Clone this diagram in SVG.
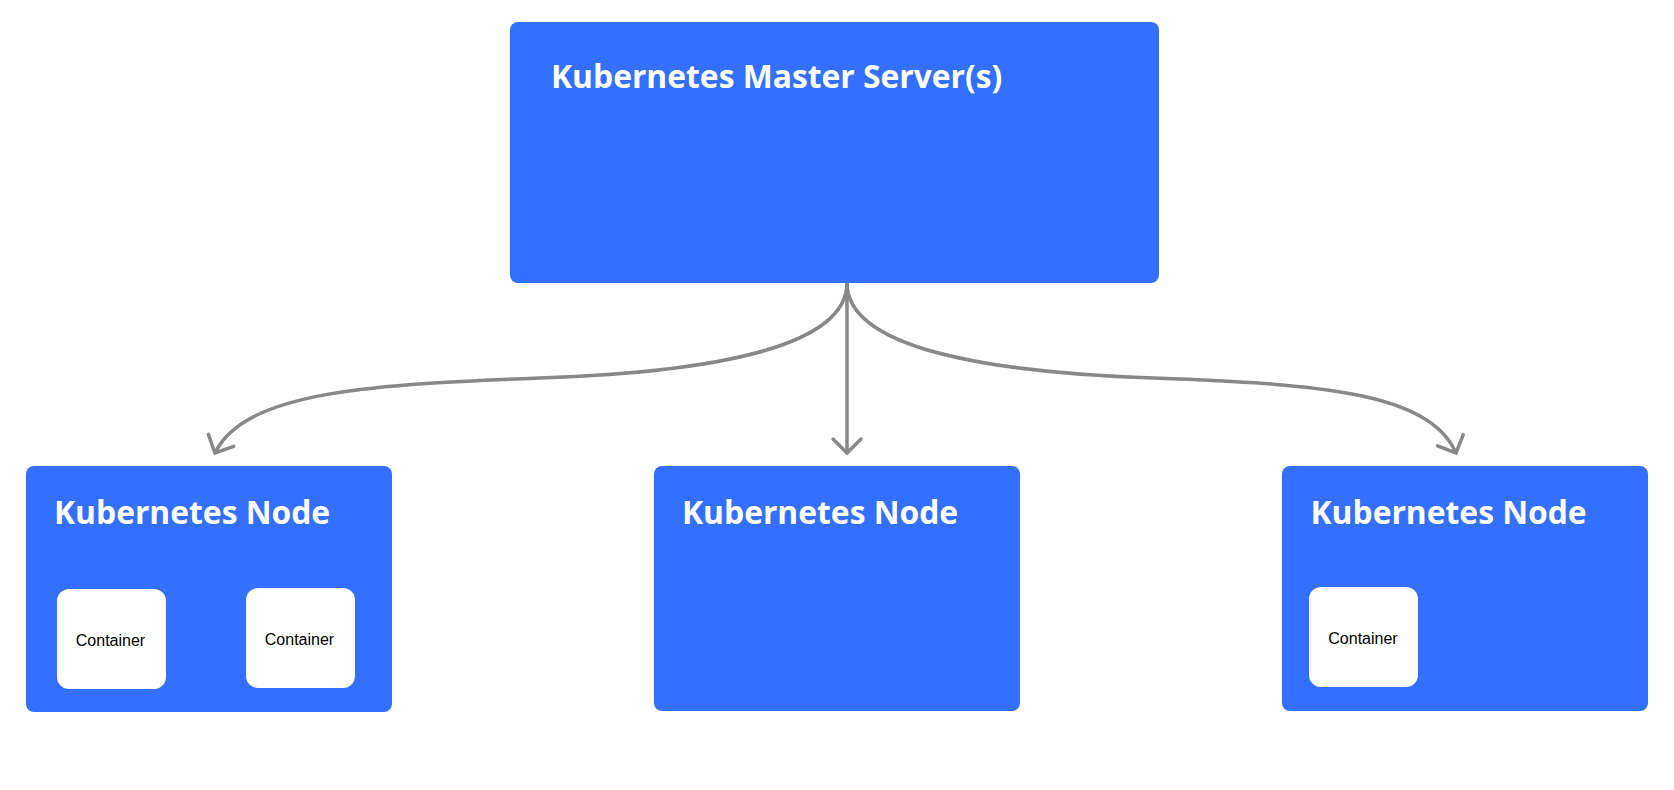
<svg xmlns="http://www.w3.org/2000/svg" width="1674" height="790" viewBox="0 0 1674 790">
  <style>
    .box { fill: #3370ff; }
    .cont { fill: #ffffff; }
    .title { font-family: "Open Sans", "Noto Sans", sans-serif; font-weight: 700; font-size: 31.8px; fill: #ffffff; }
    .label { font-family: "Liberation Sans", Arial, sans-serif; font-size: 16px; fill: #000000; text-anchor: middle; }
    .conn { fill: none; stroke: #888888; stroke-width: 3.5; marker-end: url(#arrow); }
  </style>
  <defs>
    <marker id="arrow" markerUnits="userSpaceOnUse" markerWidth="40" markerHeight="40" refX="0" refY="0" orient="auto" overflow="visible">
      <path d="M -14,-14 L 0,0 L -14,14" fill="none" stroke="#888888" stroke-width="3.5" stroke-linecap="round" stroke-linejoin="miter"/>
    </marker>
  </defs>
  <rect width="1674" height="790" fill="#ffffff"/>

  <g id="connectors">
    <path class="conn" d="M 847,283 C 847,345 720,372 540,378 C 380,384 245,390 215,453"/>
    <path class="conn" d="M 847,283 L 847,453"/>
    <path class="conn" d="M 847,283 C 847,345 974,372 1154,378 C 1314,384 1429,391 1456,453"/>
  </g>

  <g id="master">
    <rect class="box" x="510" y="22" width="649" height="261" rx="8"/>
    <text class="title" x="551" y="88">Kubernetes Master Server(s)</text>
  </g>

  <g id="node1">
    <rect class="box" x="26" y="466" width="366" height="246" rx="8"/>
    <text class="title" x="54" y="524">Kubernetes Node</text>
    <g id="node1-container1">
      <rect class="cont" x="57" y="589" width="109" height="100" rx="12"/>
      <text class="label" x="110.5" y="646">Container</text>
    </g>
    <g id="node1-container2">
      <rect class="cont" x="246" y="588" width="109" height="100" rx="12"/>
      <text class="label" x="299.5" y="645">Container</text>
    </g>
  </g>

  <g id="node2">
    <rect class="box" x="654" y="466" width="366" height="245" rx="8"/>
    <text class="title" x="682" y="524">Kubernetes Node</text>
  </g>

  <g id="node3">
    <rect class="box" x="1282" y="466" width="366" height="245" rx="8"/>
    <text class="title" x="1310.5" y="524">Kubernetes Node</text>
    <g id="node3-container1">
      <rect class="cont" x="1309" y="587" width="109" height="100" rx="12"/>
      <text class="label" x="1363" y="644">Container</text>
    </g>
  </g>
</svg>
